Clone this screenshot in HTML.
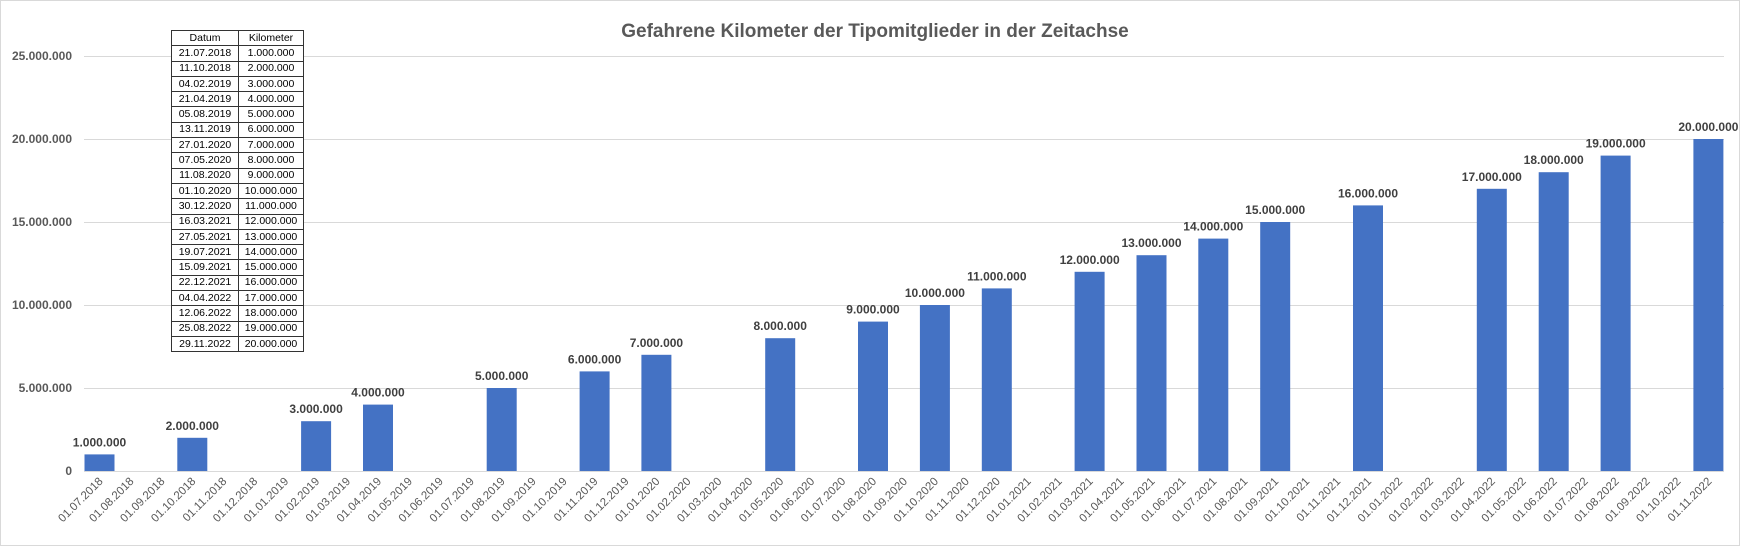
<!DOCTYPE html>
<html><head><meta charset="utf-8"><style>
body{margin:0;background:#fff;width:1740px;height:546px;overflow:hidden;position:relative;font-family:"Liberation Sans",sans-serif}
svg{position:absolute;left:0;top:0}
table{position:absolute;left:171px;top:30px;border-collapse:collapse;font-size:10.5px;color:#000;background:#fff}
td{border:1px solid #333;height:14.3px;padding:0;line-height:13px;text-align:center}
td:first-child{width:66px}
td:last-child{width:64px}
</style></head><body>
<svg width="1740" height="546" font-family="Liberation Sans, sans-serif">
<rect x="0.5" y="0.5" width="1739" height="545" fill="#fff" stroke="#d9d9d9"/>
<text x="875" y="37" text-anchor="middle" font-size="19" font-weight="bold" fill="#595959">Gefahrene Kilometer der Tipomitglieder in der Zeitachse</text>
<g stroke="#d9d9d9" stroke-width="1">
<line x1="84" x2="1724" y1="56.5" y2="56.5"/>
<line x1="84" x2="1724" y1="139.5" y2="139.5"/>
<line x1="84" x2="1724" y1="222.5" y2="222.5"/>
<line x1="84" x2="1724" y1="305.5" y2="305.5"/>
<line x1="84" x2="1724" y1="388.5" y2="388.5"/>
<line x1="84" x2="1724" y1="471.5" y2="471.5"/>
</g>
<g font-size="12" font-weight="bold" fill="#595959" text-anchor="end">
<text x="72" y="60">25.000.000</text>
<text x="72" y="143">20.000.000</text>
<text x="72" y="226">15.000.000</text>
<text x="72" y="309">10.000.000</text>
<text x="72" y="392">5.000.000</text>
<text x="72" y="475">0</text>
</g>
<g fill="#4472c4">
<rect x="84.5" y="454.4" width="30" height="16.6"/>
<rect x="177.3" y="437.8" width="30" height="33.2"/>
<rect x="301.1" y="421.2" width="30" height="49.8"/>
<rect x="363" y="404.6" width="30" height="66.4"/>
<rect x="486.7" y="388" width="30" height="83"/>
<rect x="579.6" y="371.4" width="30" height="99.6"/>
<rect x="641.4" y="354.8" width="30" height="116.2"/>
<rect x="765.2" y="338.2" width="30" height="132.8"/>
<rect x="858" y="321.6" width="30" height="149.4"/>
<rect x="919.9" y="305" width="30" height="166"/>
<rect x="981.8" y="288.4" width="30" height="182.6"/>
<rect x="1074.6" y="271.8" width="30" height="199.2"/>
<rect x="1136.5" y="255.2" width="30" height="215.8"/>
<rect x="1198.3" y="238.6" width="30" height="232.4"/>
<rect x="1260.2" y="222" width="30" height="249"/>
<rect x="1353" y="205.4" width="30" height="265.6"/>
<rect x="1476.8" y="188.8" width="30" height="282.2"/>
<rect x="1538.7" y="172.2" width="30" height="298.8"/>
<rect x="1600.6" y="155.6" width="30" height="315.4"/>
<rect x="1693.4" y="139" width="30" height="332"/>
</g>
<g font-size="12" font-weight="bold" fill="#404040" text-anchor="middle">
<text x="99.5" y="446.4">1.000.000</text>
<text x="192.3" y="429.8">2.000.000</text>
<text x="316.1" y="413.2">3.000.000</text>
<text x="378" y="396.6">4.000.000</text>
<text x="501.7" y="380">5.000.000</text>
<text x="594.6" y="363.4">6.000.000</text>
<text x="656.4" y="346.8">7.000.000</text>
<text x="780.2" y="330.2">8.000.000</text>
<text x="873" y="313.6">9.000.000</text>
<text x="934.9" y="297">10.000.000</text>
<text x="996.8" y="280.4">11.000.000</text>
<text x="1089.6" y="263.8">12.000.000</text>
<text x="1151.5" y="247.2">13.000.000</text>
<text x="1213.3" y="230.6">14.000.000</text>
<text x="1275.2" y="214">15.000.000</text>
<text x="1368" y="197.4">16.000.000</text>
<text x="1491.8" y="180.8">17.000.000</text>
<text x="1553.7" y="164.2">18.000.000</text>
<text x="1615.6" y="147.6">19.000.000</text>
<text x="1708.4" y="131">20.000.000</text>
</g>
<g font-size="11.5" fill="#595959" text-anchor="end">
<text transform="translate(103.5 482) rotate(-45)">01.07.2018</text>
<text transform="translate(134.4 482) rotate(-45)">01.08.2018</text>
<text transform="translate(165.4 482) rotate(-45)">01.09.2018</text>
<text transform="translate(196.3 482) rotate(-45)">01.10.2018</text>
<text transform="translate(227.3 482) rotate(-45)">01.11.2018</text>
<text transform="translate(258.2 482) rotate(-45)">01.12.2018</text>
<text transform="translate(289.1 482) rotate(-45)">01.01.2019</text>
<text transform="translate(320.1 482) rotate(-45)">01.02.2019</text>
<text transform="translate(351 482) rotate(-45)">01.03.2019</text>
<text transform="translate(382 482) rotate(-45)">01.04.2019</text>
<text transform="translate(412.9 482) rotate(-45)">01.05.2019</text>
<text transform="translate(443.8 482) rotate(-45)">01.06.2019</text>
<text transform="translate(474.8 482) rotate(-45)">01.07.2019</text>
<text transform="translate(505.7 482) rotate(-45)">01.08.2019</text>
<text transform="translate(536.7 482) rotate(-45)">01.09.2019</text>
<text transform="translate(567.6 482) rotate(-45)">01.10.2019</text>
<text transform="translate(598.5 482) rotate(-45)">01.11.2019</text>
<text transform="translate(629.5 482) rotate(-45)">01.12.2019</text>
<text transform="translate(660.4 482) rotate(-45)">01.01.2020</text>
<text transform="translate(691.4 482) rotate(-45)">01.02.2020</text>
<text transform="translate(722.3 482) rotate(-45)">01.03.2020</text>
<text transform="translate(753.2 482) rotate(-45)">01.04.2020</text>
<text transform="translate(784.2 482) rotate(-45)">01.05.2020</text>
<text transform="translate(815.1 482) rotate(-45)">01.06.2020</text>
<text transform="translate(846.1 482) rotate(-45)">01.07.2020</text>
<text transform="translate(877 482) rotate(-45)">01.08.2020</text>
<text transform="translate(907.9 482) rotate(-45)">01.09.2020</text>
<text transform="translate(938.9 482) rotate(-45)">01.10.2020</text>
<text transform="translate(969.8 482) rotate(-45)">01.11.2020</text>
<text transform="translate(1000.8 482) rotate(-45)">01.12.2020</text>
<text transform="translate(1031.7 482) rotate(-45)">01.01.2021</text>
<text transform="translate(1062.6 482) rotate(-45)">01.02.2021</text>
<text transform="translate(1093.6 482) rotate(-45)">01.03.2021</text>
<text transform="translate(1124.5 482) rotate(-45)">01.04.2021</text>
<text transform="translate(1155.5 482) rotate(-45)">01.05.2021</text>
<text transform="translate(1186.4 482) rotate(-45)">01.06.2021</text>
<text transform="translate(1217.3 482) rotate(-45)">01.07.2021</text>
<text transform="translate(1248.3 482) rotate(-45)">01.08.2021</text>
<text transform="translate(1279.2 482) rotate(-45)">01.09.2021</text>
<text transform="translate(1310.2 482) rotate(-45)">01.10.2021</text>
<text transform="translate(1341.1 482) rotate(-45)">01.11.2021</text>
<text transform="translate(1372 482) rotate(-45)">01.12.2021</text>
<text transform="translate(1403 482) rotate(-45)">01.01.2022</text>
<text transform="translate(1433.9 482) rotate(-45)">01.02.2022</text>
<text transform="translate(1464.9 482) rotate(-45)">01.03.2022</text>
<text transform="translate(1495.8 482) rotate(-45)">01.04.2022</text>
<text transform="translate(1526.7 482) rotate(-45)">01.05.2022</text>
<text transform="translate(1557.7 482) rotate(-45)">01.06.2022</text>
<text transform="translate(1588.6 482) rotate(-45)">01.07.2022</text>
<text transform="translate(1619.6 482) rotate(-45)">01.08.2022</text>
<text transform="translate(1650.5 482) rotate(-45)">01.09.2022</text>
<text transform="translate(1681.4 482) rotate(-45)">01.10.2022</text>
<text transform="translate(1712.4 482) rotate(-45)">01.11.2022</text>
</g>
</svg>
<table>
<tr><td>Datum</td><td>Kilometer</td></tr>
<tr><td>21.07.2018</td><td>1.000.000</td></tr>
<tr><td>11.10.2018</td><td>2.000.000</td></tr>
<tr><td>04.02.2019</td><td>3.000.000</td></tr>
<tr><td>21.04.2019</td><td>4.000.000</td></tr>
<tr><td>05.08.2019</td><td>5.000.000</td></tr>
<tr><td>13.11.2019</td><td>6.000.000</td></tr>
<tr><td>27.01.2020</td><td>7.000.000</td></tr>
<tr><td>07.05.2020</td><td>8.000.000</td></tr>
<tr><td>11.08.2020</td><td>9.000.000</td></tr>
<tr><td>01.10.2020</td><td>10.000.000</td></tr>
<tr><td>30.12.2020</td><td>11.000.000</td></tr>
<tr><td>16.03.2021</td><td>12.000.000</td></tr>
<tr><td>27.05.2021</td><td>13.000.000</td></tr>
<tr><td>19.07.2021</td><td>14.000.000</td></tr>
<tr><td>15.09.2021</td><td>15.000.000</td></tr>
<tr><td>22.12.2021</td><td>16.000.000</td></tr>
<tr><td>04.04.2022</td><td>17.000.000</td></tr>
<tr><td>12.06.2022</td><td>18.000.000</td></tr>
<tr><td>25.08.2022</td><td>19.000.000</td></tr>
<tr><td>29.11.2022</td><td>20.000.000</td></tr>
</table>
</body></html>
